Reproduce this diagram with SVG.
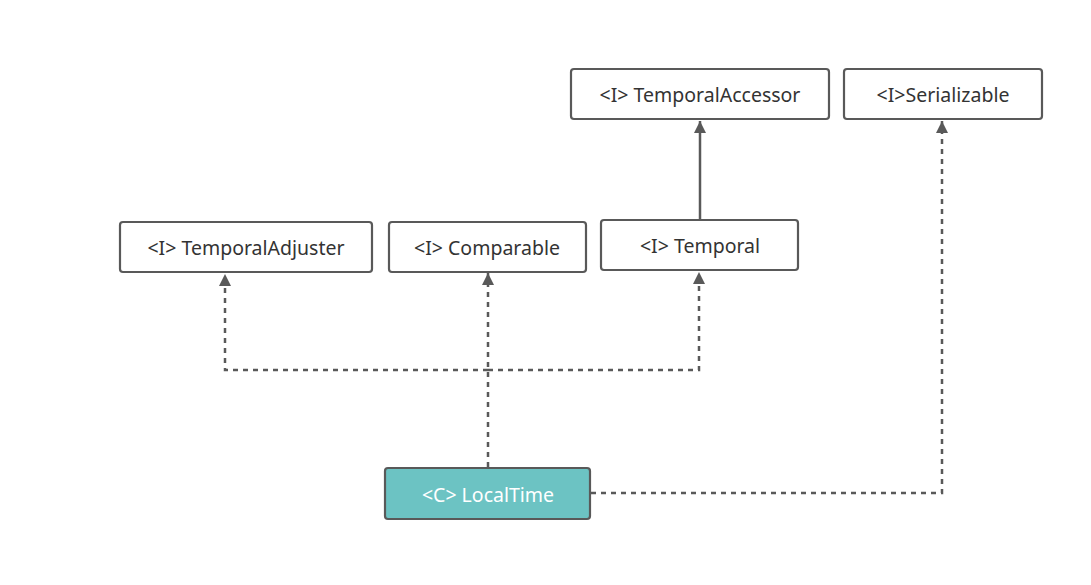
<svg xmlns="http://www.w3.org/2000/svg" width="1091" height="585" viewBox="0 0 1091 585">
<defs>
<style>
.box{fill:#ffffff;stroke:#595959;stroke-width:2.2}
.main{fill:#6cc3c3;stroke:#595959;stroke-width:2.2}
.t{font-family:"Noto Sans","Open Sans",sans-serif;font-size:19.5px;fill:#333333;text-anchor:middle;dominant-baseline:central}
.tw{fill:#ffffff}
.c{fill:none;stroke:#595959;stroke-width:2.5}
.d{stroke-dasharray:5 5}
</style>
<marker id="ah" viewBox="0 0 12 12" refX="12" refY="6" markerWidth="12" markerHeight="12" markerUnits="userSpaceOnUse" orient="auto">
<path d="M0,0 L12,6 L0,12 z" fill="#595959"/>
</marker>
</defs>
<rect width="1091" height="585" fill="#ffffff"/>
<g id="connectors">
<path class="c" d="M700,219 L700,121" marker-end="url(#ah)"/>
<path class="c d" d="M488,467 L488,273" marker-end="url(#ah)"/>
<path class="c d" d="M488,370 L225,370 L225,274" marker-end="url(#ah)"/>
<path class="c d" d="M488,370 L699,370 L699,272" marker-end="url(#ah)"/>
<path class="c d" d="M591,493 L942,493 L942,121" marker-end="url(#ah)"/>
</g>
<g id="TemporalAccessor"><rect class="box" x="571" y="69" width="258" height="50" rx="3"/><text class="t" x="700" y="94">&lt;I&gt; TemporalAccessor</text></g>
<g id="Serializable"><rect class="box" x="844" y="69" width="198" height="50" rx="3"/><text class="t" x="943" y="94">&lt;I&gt;Serializable</text></g>
<g id="TemporalAdjuster"><rect class="box" x="120" y="222" width="252" height="50" rx="3"/><text class="t" x="246" y="247">&lt;I&gt; TemporalAdjuster</text></g>
<g id="Comparable"><rect class="box" x="389" y="222" width="197" height="50" rx="3"/><text class="t" x="487" y="247">&lt;I&gt; Comparable</text></g>
<g id="Temporal"><rect class="box" x="601" y="220" width="197" height="50" rx="3"/><text class="t" x="700" y="245">&lt;I&gt; Temporal</text></g>
<g id="LocalTime"><rect class="main" x="385" y="468" width="205" height="51" rx="3"/><text class="t tw" x="488" y="494">&lt;C&gt; LocalTime</text></g>
</svg>
